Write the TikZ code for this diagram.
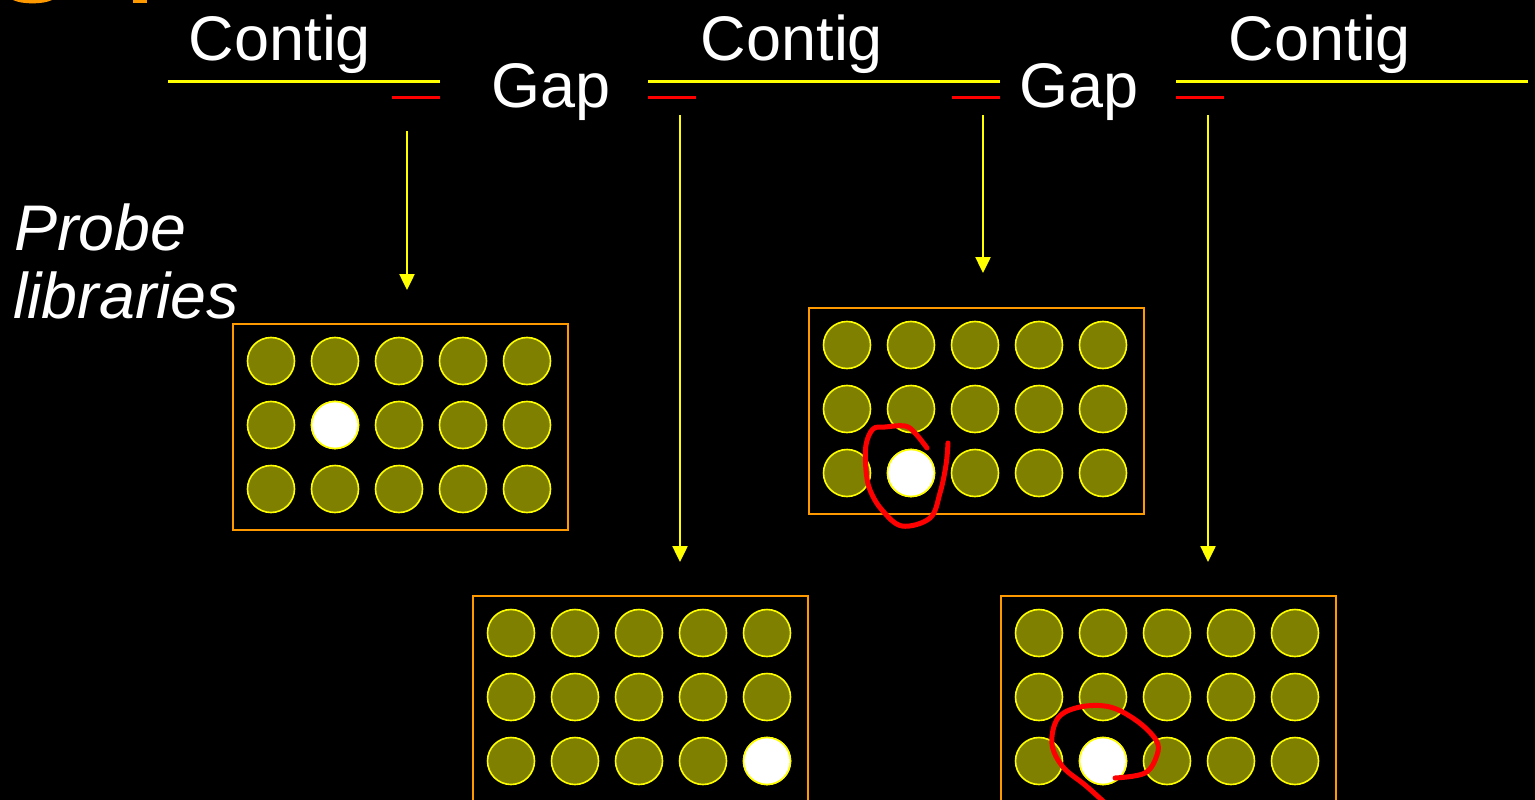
\documentclass[tikz,border=0pt]{standalone}
\usepackage{fontspec}
\setmainfont{Liberation Sans}
\usetikzlibrary{arrows.meta}
\definecolor{wellolive}{HTML}{808000}
\definecolor{plateorange}{HTML}{FF9900}
\definecolor{contigyellow}{HTML}{FFFF00}
\definecolor{gapred}{HTML}{FF0000}

\tikzset{
  bigtext/.style={text=white, inner sep=0pt, font=\fontsize{63}{68}\selectfont},
  italictext/.style={text=white, inner sep=0pt, font=\fontsize{64.5}{68}\selectfont\itshape},
  contigline/.style={draw=contigyellow, line width=3pt},
  endline/.style={draw=gapred, line width=3pt},
  feed/.style={draw=contigyellow, line width=2.5pt,
    -{Triangle[width=15pt,length=16pt]}, fill=contigyellow},
  plate/.style={draw=plateorange, line width=2pt, fill=black, inner sep=0pt,
    minimum width=335pt, minimum height=206pt, anchor=north west},
  well/.style={circle, draw=contigyellow, fill=wellolive, line width=1.6pt,
    minimum size=47pt, inner sep=0pt},
  hitwell/.style={well, fill=white},
  scribble/.style={draw=gapred, line width=5pt, line cap=round, line join=round}
}

% one probe plate: name, top-left x, top-left y
\newcommand\libplate[3]{%
  \node[plate] (#1) at (#2,#3) {};
  \foreach \r in {0,1,2}{
    \foreach \c in {0,...,4}{
      \node[well] (#1-\r-\c) at ({#2+39+64*\c},{#3+38+64*\r}) {};
    }
  }
}

\begin{document}
\begin{tikzpicture}[x=1pt,y=-1pt]
\fill[black] (0,0) rectangle (1535,800);
\useasboundingbox (0,0) rectangle (1535,800);

% remains of the heading along the top edge
\fill[plateorange] (13,0) .. controls (22,4.5) and (43,4.5) .. (52,0) -- cycle;
\fill[plateorange] (133,0) rectangle (147,3);

% contig / gap map
\node[bigtext, anchor=base] (contig1) at (280,61) {Contig};
\node[bigtext, anchor=base] (contig2) at (792,61) {Contig};
\node[bigtext, anchor=base] (contig3) at (1320,61) {Contig};
\node[bigtext, anchor=base] (gap1) at (551,107) {Gap};
\node[bigtext, anchor=base] (gap2) at (1079,107) {Gap};

\coordinate (c1a) at (168,82);  \coordinate (c1b) at (440,82);
\coordinate (c2a) at (648,82);  \coordinate (c2b) at (1000,82);
\coordinate (c3a) at (1176,82); \coordinate (c3b) at (1528,82);
\draw[contigline] (c1a) -- (c1b);
\draw[contigline] (c2a) -- (c2b);
\draw[contigline] (c3a) -- (c3b);

\coordinate (e1a) at (392,98);  \coordinate (e1b) at (440,98);
\coordinate (e2a) at (648,98);  \coordinate (e2b) at (696,98);
\coordinate (e3a) at (952,98);  \coordinate (e3b) at (1000,98);
\coordinate (e4a) at (1176,98); \coordinate (e4b) at (1224,98);
\draw[endline] (e1a) -- (e1b);
\draw[endline] (e2a) -- (e2b);
\draw[endline] (e3a) -- (e3b);
\draw[endline] (e4a) -- (e4b);

% label
\node[italictext, anchor=base west] (probe1) at (14,250) {Probe};
\node[italictext, anchor=base west] (probe2) at (13,318) {libraries};

% probe plates
\libplate{plateA}{232}{323}
\libplate{plateB}{808}{307}
\libplate{plateC}{472}{595}
\libplate{plateD}{1000}{595}

\node[hitwell] at (plateA-1-1) {};
\node[hitwell] at (plateB-2-1) {};
\node[hitwell] at (plateC-2-4) {};
\node[hitwell] at (plateD-2-1) {};

% probes from the contig ends down to the plates
\coordinate (p1s) at (407,131);  \coordinate (p1e) at (407,290);
\coordinate (p2s) at (680,115);  \coordinate (p2e) at (680,562);
\coordinate (p3s) at (983,115);  \coordinate (p3e) at (983,273);
\coordinate (p4s) at (1208,115); \coordinate (p4e) at (1208,562);
\draw[feed] (p1s) -- (p1e);
\draw[feed] (p2s) -- (p2e);
\draw[feed] (p3s) -- (p3e);
\draw[feed] (p4s) -- (p4e);

% hand-drawn marks round the positive clones
\draw[scribble] plot[smooth, tension=0.6] coordinates {
  (927,448) (915,433) (905,426) (885,427) (873,429) (866,445)
  (866,470) (870,490) (882,510) (902,526) (930,518) (940,493) (946,465) (948,443)};
\draw[scribble] plot[smooth, tension=0.6] coordinates {
  (1104,802) (1085,785) (1063,767) (1052,744) (1058,718) (1080,707)
  (1110,707) (1137,721) (1156,740) (1157,755) (1145,773) (1115,778)};
\end{tikzpicture}
\end{document}
